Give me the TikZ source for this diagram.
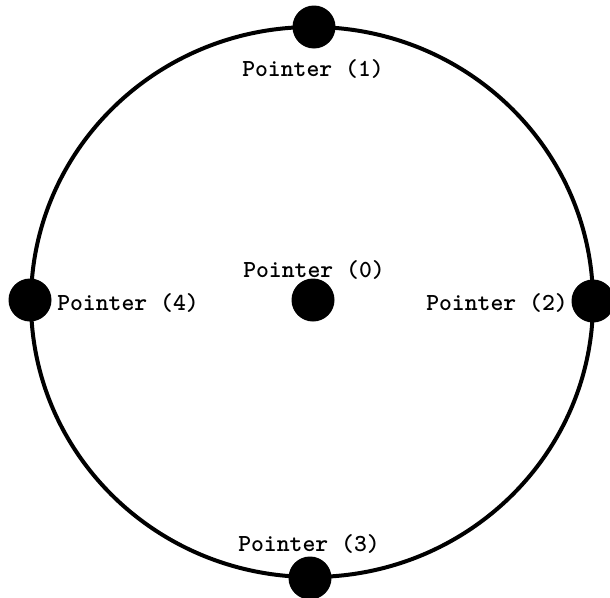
\documentclass[tikz,border=0pt]{standalone}
\usepackage{fontspec}
\begin{document}
\begin{tikzpicture}[x=1pt,y=-1pt,
  dot/.style={circle,fill=black,inner sep=0pt,minimum size=43pt},
  lbl/.style={font=\ttfamily\bfseries\fontsize{24.5}{26}\selectfont,inner sep=0pt,anchor=center}]
\useasboundingbox (0,0) rectangle (610,597);
\draw[line width=4pt] (312,302) ellipse [x radius=281, y radius=275];
\node[dot] (p1) at (314,27) {};
\node[dot] (p4) at (30,300) {};
\node[dot] (p2) at (593,301) {};
\node[dot] (p3) at (310,578) {};
\node[dot] (p0) at (313,300) {};
\node[lbl] (l1) at (313,69) {Pointer (1)};
\node[lbl] (l4) at (128,303) {Pointer (4)};
\node[lbl] (l2) at (497,303) {Pointer (2)};
\node[lbl] (l3) at (309,544) {Pointer (3)};
\node[lbl] (l0) at (314,270) {Pointer (0)};
\end{tikzpicture}
\end{document}
